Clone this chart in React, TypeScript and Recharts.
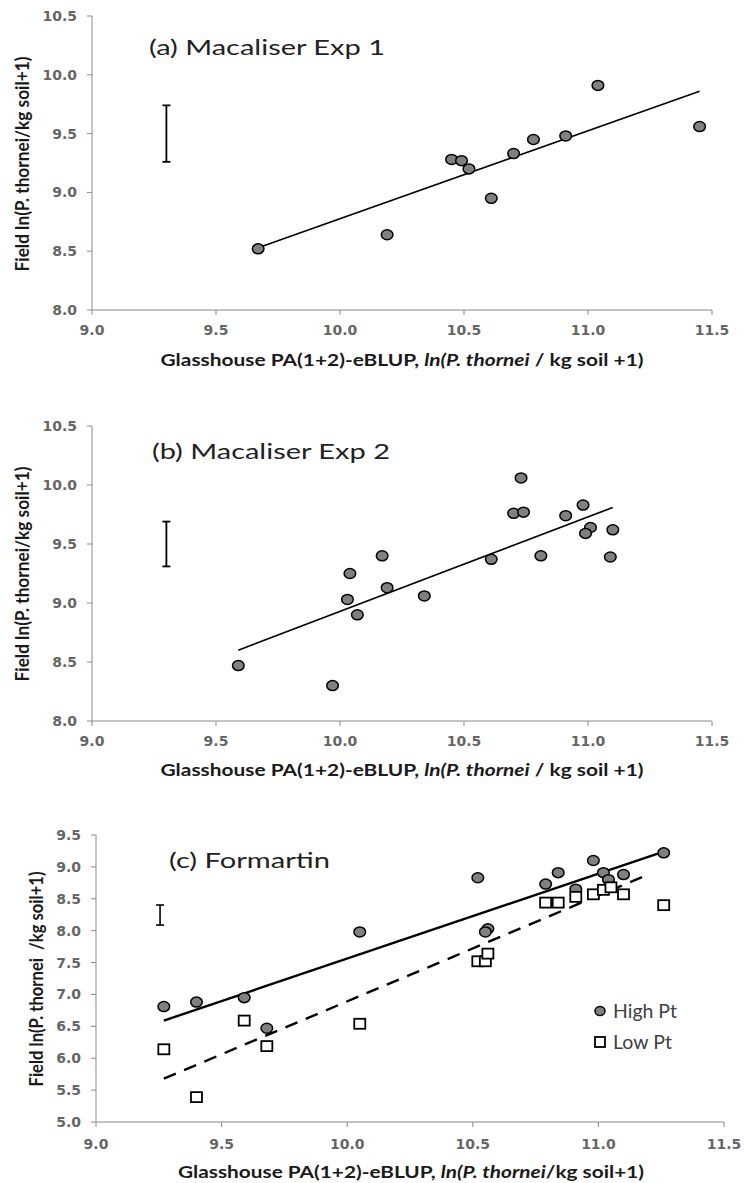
import React from "react";
import {
  ScatterChart,
  Scatter,
  XAxis,
  YAxis,
  ReferenceLine,
  ErrorBar,
  Customized,
} from "recharts";

// ---------- data ----------
const xTicks = [9, 9.5, 10, 10.5, 11, 11.5];
const yTicksAB = [8, 8.5, 9, 9.5, 10, 10.5];
const yTicksC = [5, 5.5, 6, 6.5, 7, 7.5, 8, 8.5, 9, 9.5];

const expA = [
  { x: 9.67, y: 8.52 },
  { x: 10.19, y: 8.64 },
  { x: 10.45, y: 9.28 },
  { x: 10.49, y: 9.27 },
  { x: 10.52, y: 9.2 },
  { x: 10.61, y: 8.95 },
  { x: 10.7, y: 9.33 },
  { x: 10.78, y: 9.45 },
  { x: 10.91, y: 9.48 },
  { x: 11.04, y: 9.91 },
  { x: 11.45, y: 9.56 },
];
const trendA = [
  { x: 9.67, y: 8.53 },
  { x: 11.45, y: 9.86 },
];
const errA = [{ x: 9.3, y: 9.5, err: 0.24 }];

const expB = [
  { x: 9.59, y: 8.47 },
  { x: 9.97, y: 8.3 },
  { x: 10.03, y: 9.03 },
  { x: 10.04, y: 9.25 },
  { x: 10.07, y: 8.9 },
  { x: 10.17, y: 9.4 },
  { x: 10.19, y: 9.13 },
  { x: 10.34, y: 9.06 },
  { x: 10.61, y: 9.37 },
  { x: 10.7, y: 9.76 },
  { x: 10.74, y: 9.77 },
  { x: 10.73, y: 10.06 },
  { x: 10.81, y: 9.4 },
  { x: 10.91, y: 9.74 },
  { x: 10.98, y: 9.83 },
  { x: 11.01, y: 9.64 },
  { x: 10.99, y: 9.59 },
  { x: 11.1, y: 9.62 },
  { x: 11.09, y: 9.39 },
];
const trendB = [
  { x: 9.59, y: 8.6 },
  { x: 11.1, y: 9.81 },
];
const errB = [{ x: 9.3, y: 9.5, err: 0.19 }];

const highC = [
  { x: 9.27, y: 6.81 },
  { x: 9.4, y: 6.88 },
  { x: 9.59, y: 6.95 },
  { x: 9.68, y: 6.47 },
  { x: 10.05, y: 7.98 },
  { x: 10.52, y: 8.83 },
  { x: 10.56, y: 8.03 },
  { x: 10.55, y: 7.98 },
  { x: 10.79, y: 8.73 },
  { x: 10.84, y: 8.91 },
  { x: 10.91, y: 8.65 },
  { x: 10.98, y: 9.1 },
  { x: 11.02, y: 8.91 },
  { x: 11.04, y: 8.8 },
  { x: 11.1, y: 8.88 },
  { x: 11.26, y: 9.22 },
];
const lowC = [
  { x: 9.27, y: 6.14 },
  { x: 9.4, y: 5.39 },
  { x: 9.59, y: 6.59 },
  { x: 9.68, y: 6.19 },
  { x: 10.05, y: 6.54 },
  { x: 10.52, y: 7.52 },
  { x: 10.55, y: 7.52 },
  { x: 10.56, y: 7.64 },
  { x: 10.79, y: 8.44 },
  { x: 10.84, y: 8.44 },
  { x: 10.91, y: 8.53 },
  { x: 10.98, y: 8.57 },
  { x: 11.02, y: 8.64 },
  { x: 11.05, y: 8.68 },
  { x: 11.1, y: 8.57 },
  { x: 11.26, y: 8.4 },
];
const trendHighC = [
  { x: 9.27, y: 6.59 },
  { x: 11.26, y: 9.24 },
];
const trendLowC = [
  { x: 9.27, y: 5.68 },
  { x: 11.18, y: 8.85 },
];
const errC = [{ x: 9.255, y: 8.245, err: 0.157 }];

const legendLabels = ["High Pt", "Low Pt"];

// ---------- styles ----------
const AXIS_COLOR = "#8a8a8a";
const TICK_STYLE = {
  fill: "#666666",
  fontSize: 14,
  fontWeight: 700,
  fontFamily: "DejaVu Sans, sans-serif",
};
const TITLE_FONT = "Lato, 'Open Sans', sans-serif";
const fmt = (v: number) => v.toFixed(1);

const Dot = (props: any) => {
  const { cx, cy } = props;
  if (cx == null || cy == null) return <g />;
  return (
    <ellipse cx={cx} cy={cy} rx={5.8} ry={5} fill="#808080" stroke="#000" strokeWidth={1.5} />
  );
};
const Sq = (props: any) => {
  const { cx, cy } = props;
  if (cx == null || cy == null) return <g />;
  return (
    <rect x={cx - 5.5} y={cy - 5} width={11} height={10} fill="#fff" stroke="#000" strokeWidth={1.8} />
  );
};
const NoShape = () => <g />;

const XTitle = ({ cx, y, len, tail }: { cx: number; y: number; len: number; tail: string }) => (
  <text
    x={cx}
    y={y}
    textAnchor="middle"
    textLength={len}
    lengthAdjust="spacingAndGlyphs"
    fontFamily={TITLE_FONT}
    fontWeight={700}
    fontSize={17}
    fill="#1a1a1a"
    style={{ whiteSpace: "pre" }}
  >
    <tspan>Glasshouse PA(1+2)-eBLUP, </tspan>
    <tspan fontStyle="italic">ln(P. thornei</tspan>
    <tspan>{tail}</tspan>
  </text>
);

const YTitle = ({ cx, cy, text }: { cx: number; cy: number; text: string }) => (
  <text
    transform={`translate(${cx},${cy}) rotate(-90)`}
    textAnchor="middle"
    dominantBaseline="central"
    textLength={215}
    lengthAdjust="spacingAndGlyphs"
    fontFamily={TITLE_FONT}
    fontWeight={700}
    fontSize={18}
    fill="#1a1a1a"
    style={{ whiteSpace: "pre" }}
  >
    {text}
  </text>
);

const PanelTitle = ({ x, y, len, text }: { x: number; y: number; len: number; text: string }) => (
  <text
    x={x}
    y={y}
    textLength={len}
    lengthAdjust="spacingAndGlyphs"
    fontFamily={TITLE_FONT}
    fontSize={22}
    fill="#222"
  >
    {text}
  </text>
);

const TextsA = () => (
  <g>
    <PanelTitle x={149} y={55} len={236} text="(a) Macaliser Exp 1" />
    <YTitle cx={22} cy={164} text="Field ln(P. thornei/kg soil+1)" />
    <XTitle cx={402} y={366} len={483} tail=" / kg soil +1)" />
  </g>
);
const TextsB = () => (
  <g>
    <PanelTitle x={152} y={79} len={238} text="(b) Macaliser Exp 2" />
    <YTitle cx={22} cy={194} text="Field ln(P. thornei/kg soil+1)" />
    <XTitle cx={402} y={396} len={483} tail=" / kg soil +1)" />
  </g>
);
const TextsC = () => (
  <g>
    <PanelTitle x={169} y={88} len={161} text="(c) Formartin" />
    <YTitle cx={36} cy={199} text="Field ln(P. thornei  /kg soil+1)" />
    <XTitle cx={411} y={398} len={466} tail="/kg soil+1)" />
    <ellipse cx={600} cy={231} rx={5} ry={4.6} fill="#808080" stroke="#000" strokeWidth={1.5} />
    <text x={613} y={237.5} textLength={64} lengthAdjust="spacingAndGlyphs" fontFamily={TITLE_FONT} fontSize={19} fill="#404040">
      {legendLabels[0]}
    </text>
    <rect x={595} y={257} width={10} height={10} fill="#fff" stroke="#000" strokeWidth={1.8} />
    <text x={613} y={268.5} textLength={59} lengthAdjust="spacingAndGlyphs" fontFamily={TITLE_FONT} fontSize={19} fill="#404040">
      {legendLabels[1]}
    </text>
  </g>
);

const axisProps = {
  stroke: AXIS_COLOR,
  tickLine: { stroke: AXIS_COLOR },
  tickSize: 5,
  tick: TICK_STYLE,
  tickFormatter: fmt,
  allowDataOverflow: true,
};

export default function App() {
  return (
    <div style={{ position: "absolute", left: 0, top: 0, width: 744, height: 1183, background: "#fff" }}>
      {/* Panel (a) */}
      <div style={{ position: "absolute", left: 0, top: 0 }}>
        <ScatterChart width={744} height={380} margin={{ top: 16, right: 32, left: 0, bottom: 40 }}>
          <XAxis type="number" dataKey="x" domain={[9, 11.5]} ticks={xTicks} height={30} tickMargin={10} {...axisProps} />
          <YAxis type="number" dataKey="y" domain={[8, 10.5]} ticks={yTicksAB} width={92} tickMargin={10} {...axisProps} />
          <ReferenceLine segment={trendA} stroke="#000" strokeWidth={1.6} ifOverflow="visible" />
          <Scatter data={errA} shape={NoShape} isAnimationActive={false}>
            <ErrorBar dataKey="err" direction="y" width={4} stroke="#000" strokeWidth={1.8} isAnimationActive={false} />
          </Scatter>
          <Scatter data={expA} shape={Dot} isAnimationActive={false} />
          <Customized component={TextsA} />
        </ScatterChart>
      </div>

      {/* Panel (b) */}
      <div style={{ position: "absolute", left: 0, top: 380 }}>
        <ScatterChart width={744} height={400} margin={{ top: 46, right: 32, left: 0, bottom: 29 }}>
          <XAxis type="number" dataKey="x" domain={[9, 11.5]} ticks={xTicks} height={30} tickMargin={10} {...axisProps} />
          <YAxis type="number" dataKey="y" domain={[8, 10.5]} ticks={yTicksAB} width={92} tickMargin={10} {...axisProps} />
          <ReferenceLine segment={trendB} stroke="#000" strokeWidth={1.6} ifOverflow="visible" />
          <Scatter data={errB} shape={NoShape} isAnimationActive={false}>
            <ErrorBar dataKey="err" direction="y" width={4} stroke="#000" strokeWidth={1.8} isAnimationActive={false} />
          </Scatter>
          <Scatter data={expB} shape={Dot} isAnimationActive={false} />
          <Customized component={TextsB} />
        </ScatterChart>
      </div>

      {/* Panel (c) */}
      <div style={{ position: "absolute", left: 0, top: 780 }}>
        <ScatterChart width={744} height={403} margin={{ top: 55, right: 20, left: 0, bottom: 31 }}>
          <XAxis type="number" dataKey="x" domain={[9, 11.5]} ticks={xTicks} height={30} tickMargin={12} {...axisProps} />
          <YAxis type="number" dataKey="y" domain={[5, 9.5]} ticks={yTicksC} width={96} tickMargin={10} {...axisProps} />
          <ReferenceLine segment={trendHighC} stroke="#000" strokeWidth={2.4} ifOverflow="visible" />
          <ReferenceLine segment={trendLowC} stroke="#000" strokeWidth={2.4} strokeDasharray="13 9" ifOverflow="visible" />
          <Scatter data={errC} shape={NoShape} isAnimationActive={false}>
            <ErrorBar dataKey="err" direction="y" width={4} stroke="#000" strokeWidth={1.6} isAnimationActive={false} />
          </Scatter>
          <Scatter data={highC} shape={Dot} isAnimationActive={false} />
          <Scatter data={lowC} shape={Sq} isAnimationActive={false} />
          <Customized component={TextsC} />
        </ScatterChart>
      </div>
    </div>
  );
}
